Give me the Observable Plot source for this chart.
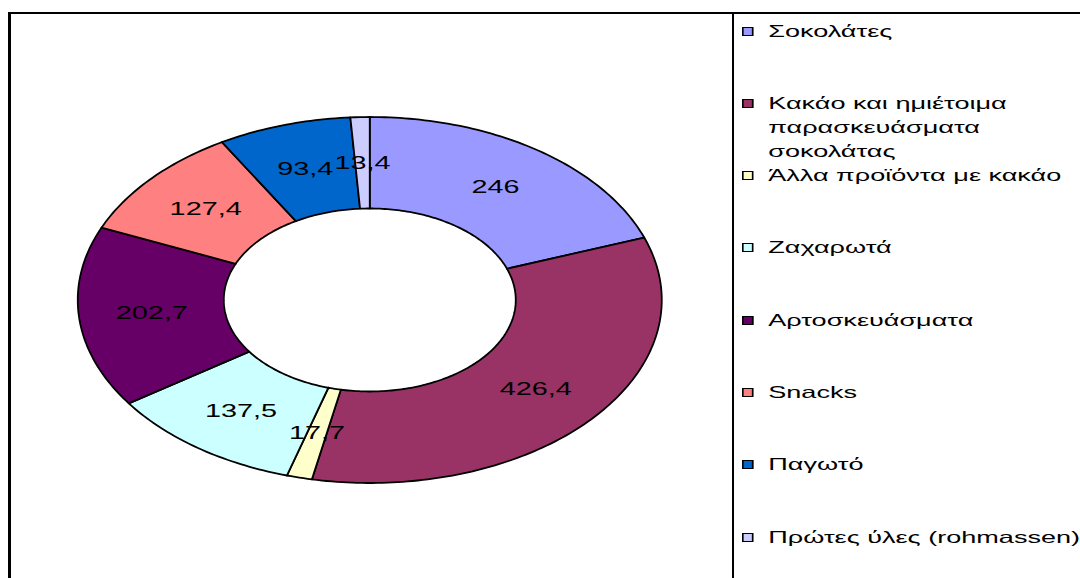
<!DOCTYPE html>
<html>
<head>
<meta charset="utf-8">
<script src="https://cdn.jsdelivr.net/npm/d3@7"></script>
<script src="https://cdn.jsdelivr.net/npm/@observablehq/plot@0.6"></script>
<style>
  html, body { margin: 0; padding: 0; background: #fff; }
  #wrap { position: relative; width: 1080px; height: 578px; overflow: hidden; background: #fff;
          font-family: "Liberation Sans", Arial, sans-serif; }
  #chart { position: absolute; left: 0; top: 0; }
  .bl { position: absolute; background: #000; }
  #legend { position: absolute; left: 741.5px; top: 0; width: 210px; height: 578px;
            transform: scaleX(1.64); transform-origin: 0 0; }
  .item { position: absolute; left: 0; font-size: 16.5px; line-height: 24px; color: #000; white-space: pre; }
  .sw { position: absolute; left: 0; top: 8px; width: 7px; height: 9px; box-sizing: border-box;
        border: 1px solid #000; }
  .tx { position: absolute; left: 16px; top: 0; }
</style>
</head>
<body>
<div id="wrap">
  <div id="chart"></div>
  <div class="bl" style="left:8px;top:12px;width:2.5px;height:566px"></div>
  <div class="bl" style="left:8px;top:12px;width:1072px;height:2px"></div>
  <div class="bl" style="left:731.5px;top:12px;width:2.5px;height:566px"></div>
  <div id="legend"></div>
</div>
<script>
// ---- data ----
const categories = [
  "Σοκολάτες",
  "Κακάο και ημιέτοιμα παρασκευάσματα σοκολάτας",
  "Άλλα προϊόντα με κακάο",
  "Ζαχαρωτά",
  "Αρτοσκευάσματα",
  "Snacks",
  "Παγωτό",
  "Πρώτες ύλες (rohmassen)"
];
const values = [246, 426.4, 17.7, 137.5, 202.7, 127.4, 93.4, 13.4];
const legendLabels = [
  "Σοκολάτες",
  "Κακάο και ημιέτοιμα\nπαρασκευάσματα\nσοκολάτας",
  "Άλλα προϊόντα με κακάο",
  "Ζαχαρωτά",
  "Αρτοσκευάσματα",
  "Snacks",
  "Παγωτό",
  "Πρώτες ύλες (rohmassen)"
];
const colors = ["#9999FF", "#993366", "#FFFFCC", "#CCFFFF", "#660066", "#FF8080", "#0066CC", "#CCCCFF"];

// ---- layout ----
const STRETCH = 1.6;
const W = 1080, H = 578;
const innerRatio = 0.5;

const rows = categories.map((c, i) => ({name: c, value: values[i], color: colors[i]}));
const arcs = d3.pie().sort(null).value(d => d.value)(rows);

function ring(a0, a1) {
  const n = Math.max(2, Math.ceil((a1 - a0) / (2 * Math.PI) * 360));
  const pts = [];
  for (let k = 0; k <= n; k++) {
    const a = a0 + (a1 - a0) * k / n;
    pts.push({x: Math.sin(a), y: Math.cos(a)});
  }
  for (let k = n; k >= 0; k--) {
    const a = a0 + (a1 - a0) * k / n;
    pts.push({x: innerRatio * Math.sin(a), y: innerRatio * Math.cos(a)});
  }
  return pts;
}

const sliceMarks = arcs.map(a =>
  Plot.line(ring(a.startAngle, a.endAngle), {
    x: "x", y: "y", fill: a.data.color, stroke: "black", strokeWidth: 1.8, curve: "linear-closed"
  })
);

const fmt = v => String(v).replace(".", ",");
const labels = arcs.map(a => {
  const m = (a.startAngle + a.endAngle) / 2, r = (1 + innerRatio) / 2;
  return {x: r * Math.sin(m), y: r * Math.cos(m), text: fmt(a.data.value)};
});

const svg = Plot.plot({
  width: W / STRETCH,
  height: H,
  margin: 0,
  style: {fontFamily: "'Liberation Sans', Arial, sans-serif", background: "transparent"},
  x: {domain: [-1, 1], range: [48.1, 413.1], axis: null},
  y: {domain: [-1, 1], range: [482.5, 116.5], axis: null},
  marks: [
    ...sliceMarks,
    Plot.text(labels, {x: "x", y: "y", text: "text", fontSize: 18, fill: "black"})
  ]
});
svg.setAttribute("preserveAspectRatio", "none");
svg.setAttribute("width", W);
svg.setAttribute("height", H);
svg.style.width = W + "px";
svg.style.height = H + "px";
svg.style.maxWidth = "none";
svg.querySelectorAll("path").forEach(p => p.setAttribute("vector-effect", "non-scaling-stroke"));
document.getElementById("chart").appendChild(svg);

// ---- legend ----
const legend = document.getElementById("legend");
const firstTop = 18.5, slot = 72.3;
legendLabels.forEach((lab, i) => {
  const it = document.createElement("div");
  it.className = "item";
  it.style.top = (firstTop + slot * i) + "px";
  const sw = document.createElement("div");
  sw.className = "sw";
  sw.style.background = colors[i];
  const tx = document.createElement("div");
  tx.className = "tx";
  tx.textContent = lab;
  it.appendChild(sw);
  it.appendChild(tx);
  legend.appendChild(it);
});
</script>
</body>
</html>
